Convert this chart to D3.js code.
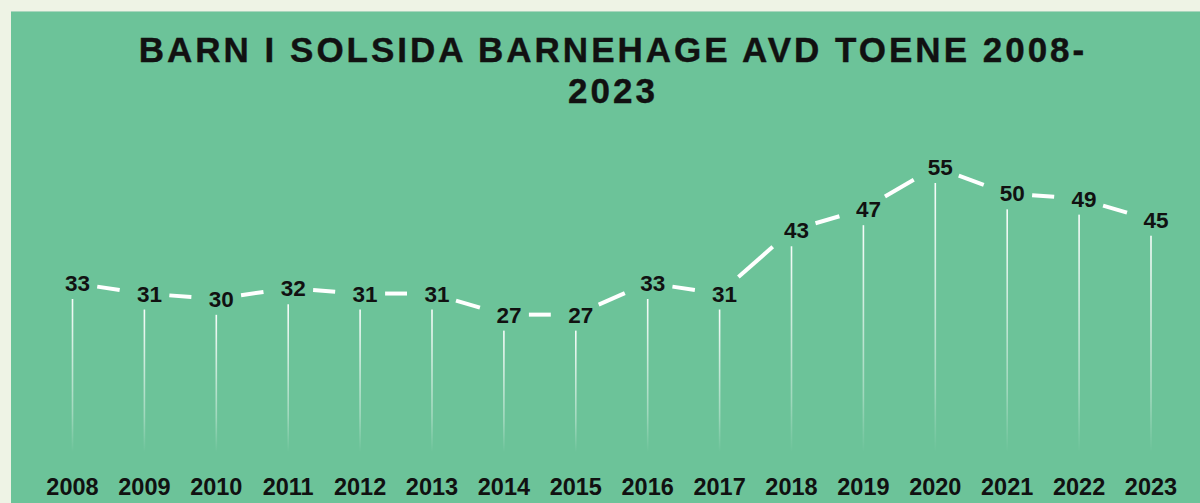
<!DOCTYPE html>
<html>
<head>
<meta charset="utf-8">
<script src="https://cdn.jsdelivr.net/npm/d3@7"></script>
<style>
  html, body { margin: 0; padding: 0; background: #eef3e5; }
  svg { display: block; }
</style>
</head>
<body>
<div id="chart"></div>
<script>
const years = ["2008", "2009", "2010", "2011", "2012", "2013", "2014", "2015",
  "2016", "2017", "2018", "2019", "2020", "2021", "2022", "2023"];
const barn = [33, 31, 30, 32, 31, 31, 27, 27, 33, 31, 43, 47, 55, 50, 49, 45];
const titleLines = ["BARN I SOLSIDA BARNEHAGE AVD TOENE 2008-", "2023"];

const width = 1200, height = 503;

const svg = d3.select("#chart")
  .append("svg")
  .attr("width", width)
  .attr("height", height);

const defs = svg.append("defs");
const grad = defs.append("linearGradient")
  .attr("id", "fade")
  .attr("x1", 0).attr("y1", 0)
  .attr("x2", 0).attr("y2", 1);
grad.append("stop").attr("offset", "0%").attr("stop-color", "#ffffff").attr("stop-opacity", 0.95);
grad.append("stop").attr("offset", "75%").attr("stop-color", "#ffffff").attr("stop-opacity", 0.35);
grad.append("stop").attr("offset", "100%").attr("stop-color", "#ffffff").attr("stop-opacity", 0);

// green panel
svg.append("rect")
  .attr("x", 11).attr("y", 11)
  .attr("width", width).attr("height", height)
  .attr("fill", "#6cc399");
svg.append("line")
  .attr("x1", 11).attr("x2", width)
  .attr("y1", 11.5).attr("y2", 11.5)
  .attr("stroke", "#a9d6bd").attr("stroke-width", 1);

// title
svg.append("g")
  .selectAll("text")
  .data(titleLines)
  .join("text")
  .attr("x", 613)
  .attr("y", (d, i) => 62 + i * 41)
  .attr("text-anchor", "middle")
  .attr("font-family", "Liberation Sans, Arial, sans-serif")
  .attr("font-weight", "bold")
  .attr("font-size", 35)
  .attr("letter-spacing", 3)
  .attr("stroke", "#111")
  .attr("stroke-width", 0.4)
  .attr("fill", "#111")
  .text((d) => d);

const x = d3.scalePoint(years, [72.5, 1151]);
const y = d3.scaleLinear([33, 55], [283, 167]);
const baseY = 452;

const data = years.map((yr, i) => ({ year: yr, value: barn[i] }));

// vertical drop lines
svg.append("g")
  .selectAll("rect")
  .data(data)
  .join("rect")
  .attr("x", (d) => x(d.year) - 0.8)
  .attr("y", (d) => y(d.value) + 16)
  .attr("width", 1.6)
  .attr("height", (d) => baseY - y(d.value) - 16)
  .attr("fill", "url(#fade)");

// connecting segments, trimmed around the labels
const gap = 25;
const segs = d3.pairs(data).map(([a, b]) => {
  const x1 = x(a.year), y1 = y(a.value), x2 = x(b.year), y2 = y(b.value);
  const len = Math.hypot(x2 - x1, y2 - y1);
  const ux = (x2 - x1) / len, uy = (y2 - y1) / len;
  return [[x1 + ux * gap, y1 + uy * gap], [x2 - ux * gap, y2 - uy * gap]];
});

svg.append("g")
  .selectAll("path")
  .data(segs)
  .join("path")
  .attr("d", d3.line())
  .attr("stroke", "#ffffff")
  .attr("stroke-width", 4)
  .attr("fill", "none");

// value labels
svg.append("g")
  .selectAll("text")
  .data(data)
  .join("text")
  .attr("x", (d) => x(d.year) + 5)
  .attr("y", (d) => y(d.value))
  .attr("dy", "0.36em")
  .attr("text-anchor", "middle")
  .attr("font-family", "Liberation Sans, Arial, sans-serif")
  .attr("font-weight", "bold")
  .attr("font-size", 22.5)
  .attr("fill", "#111")
  .text((d) => d.value);

// year axis labels
svg.append("g")
  .selectAll("text")
  .data(years)
  .join("text")
  .attr("x", (d) => x(d))
  .attr("y", 495)
  .attr("text-anchor", "middle")
  .attr("font-family", "Liberation Sans, Arial, sans-serif")
  .attr("font-weight", "bold")
  .attr("font-size", 23.5)
  .attr("fill", "#111")
  .text((d) => d);
</script>
</body>
</html>
